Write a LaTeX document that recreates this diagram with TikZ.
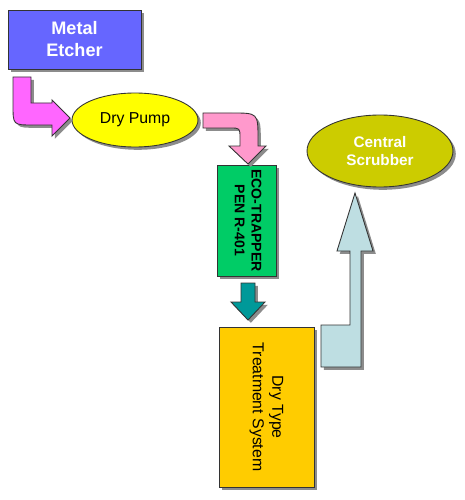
\documentclass[tikz,border=0pt]{standalone}
\usepackage{fontspec}
\setmainfont{Liberation Sans}
\usepackage{graphicx}
\usepackage{xcolor}
\usepackage{tikz}
\usetikzlibrary{shapes.geometric,shadows}

\definecolor{etcherblue}{RGB}{102,102,255}
\definecolor{pumpyellow}{RGB}{255,255,0}
\definecolor{trappergreen}{RGB}{0,204,102}
\definecolor{drybox}{RGB}{255,204,0}
\definecolor{scrubolive}{RGB}{204,204,0}
\definecolor{magentaflow}{RGB}{255,102,255}
\definecolor{pinkflow}{RGB}{255,153,204}
\definecolor{tealflow}{RGB}{0,153,153}
\definecolor{iceflow}{RGB}{190,222,226}

\begin{document}
\begin{tikzpicture}[
    x=0.02cm, y=-0.02cm,
    shade/.style={drop shadow={shadow xshift=1.6pt, shadow yshift=-1.6pt, fill=black!45, opacity=1}},
    base/.style={draw=black!80, line width=0.5pt, shade, inner sep=0pt, align=center},
    box/.style={base, rectangle},
    oval/.style={base, ellipse},
    flow/.style={draw=black!80, line width=0.5pt, shade}
]
\useasboundingbox[fill=white] (0,0) rectangle (465,500);

% Equipment
\node[box, fill=etcherblue, text=white, minimum width=2.66cm, minimum height=1.18cm,
      font=\bfseries\fontsize{10.3}{12.5}\selectfont] (etcher) at (74.5,39.5) {Metal\\Etcher};
\node[oval, fill=pumpyellow, minimum width=2.52cm, minimum height=1.08cm,
      font=\fontsize{9}{11}\selectfont] (pump) at (135,120) {Dry Pump};
\node[box, fill=trappergreen, minimum width=1.18cm, minimum height=2.22cm,
      font=\bfseries\fontsize{8}{9.5}\selectfont] (trapper) at (246.5,220.5)
    {\rotatebox{-90}{\begin{tabular}{@{}c@{}}ECO-TRAPPER\\PEN R-401\end{tabular}}};
\node[box, fill=drybox, minimum width=1.9cm, minimum height=3.2cm,
      font=\fontsize{9}{11}\selectfont] (drytype) at (266.5,407)
    {\rotatebox{-90}{\begin{tabular}{@{}c@{}}Dry Type\\Treatment System\end{tabular}}};
\node[oval, fill=scrubolive, text=white, minimum width=2.92cm, minimum height=1.44cm,
      font=\bfseries\fontsize{8.7}{10.5}\selectfont] (scrubber) at (380,151) {Central\\Scrubber};

% Etcher to pump
\draw[flow, fill=magentaflow] (13,77) -- (31,77) -- (31,103) -- (52,103) -- (52,100)
    -- (70,118) -- (52,136) -- (52,125) -- (33,125) .. controls (13,125) .. (13,105) -- cycle;

% Pump to trapper
\draw[flow, fill=pinkflow] (203,113) -- (232,113) .. controls (258,113) .. (258,139)
    -- (258,146) -- (266,146) -- (248,164) -- (229,146) -- (240,146) -- (240,138)
    .. controls (240,128) .. (230,128) -- (203,128) -- cycle;

% Trapper to dry type
\draw[flow, fill=tealflow] (241,283) -- (255,283) -- (255,302) -- (265,302)
    -- (248,320) -- (231,302) -- (241,302) -- cycle;

% Dry type to scrubber
\draw[flow, fill=iceflow] (321,325) -- (350,325) -- (350,251) -- (337,251) -- (355,193)
    -- (373,251) -- (361,251) -- (361,367) -- (321,367) -- cycle;

\end{tikzpicture}
\end{document}
